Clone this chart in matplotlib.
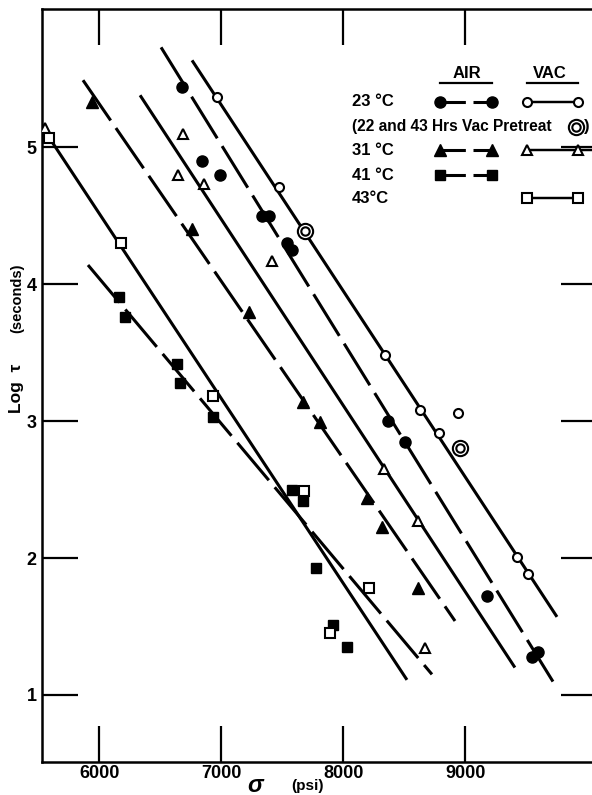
import numpy as np
import matplotlib.pyplot as plt

plt.rcParams['font.family'] = ['Liberation Sans', 'DejaVu Sans']
plt.rcParams['font.weight'] = 'bold'

# --- data (stress in psi, log tau in seconds) ---
air23_x = [6678, 6842, 6989, 7334, 7391, 7539, 7580, 8366, 8506, 9178, 9547, 9596]
air23_y = [5.44, 4.90, 4.80, 4.50, 4.50, 4.30, 4.25, 3.00, 2.85, 1.72, 1.28, 1.31]

vac23_x = [6965, 7473, 8342, 8629, 8784, 8940, 9424, 9514]
vac23_y = [5.37, 4.71, 3.48, 3.08, 2.91, 3.06, 2.01, 1.88]

pretreat_x = [7686, 8957]
pretreat_y = [4.39, 2.80]

air31_x = [5940, 6760, 7227, 7670, 7809, 8194, 8317, 8612]
air31_y = [5.33, 4.40, 3.80, 3.14, 2.99, 2.44, 2.23, 1.78]

vac31_x = [5552, 6686, 6645, 6858, 7416, 8334, 8612, 8670]
vac31_y = [5.14, 5.10, 4.80, 4.73, 4.17, 2.65, 2.27, 1.34]

air41_x = [6161, 6211, 6637, 6661, 6932, 7580, 7670, 7776, 7916, 8030]
air41_y = [3.91, 3.76, 3.42, 3.28, 3.03, 2.50, 2.42, 1.93, 1.51, 1.35]

vac43_x = [5588, 6178, 6932, 7678, 8211, 7891]
vac43_y = [5.07, 4.30, 3.18, 2.49, 1.78, 1.45]

# fitted lines: (x0, y0, x1, y1, dashed)
fit_23_vac = (6760, 5.635, 9752, 1.57, False)
fit_23_air = (6506, 5.73, 9752, 1.05, True)
fit_31_vac = (6334, 5.38, 9407, 1.20, False)
fit_31_air = (5866, 5.49, 8916, 1.54, True)
fit_43_vac = (5530, 5.15, 8522, 1.11, False)
fit_41_air = (5907, 4.14, 8727, 1.15, True)

xticks = [6000, 7000, 8000, 9000]
yticks = [1, 2, 3, 4, 5]

fig = plt.figure(figsize=(5.92, 7.95), dpi=100)
ax = fig.add_axes([42 / 592, 33 / 795, 555 / 592, 753 / 795])

lw = 2.2
dash = (16, 3)
for x0, y0, x1, y1, dashed in [fit_23_vac, fit_23_air, fit_31_vac,
                               fit_31_air, fit_43_vac, fit_41_air]:
    ln, = ax.plot([x0, x1], [y0, y1], color='black', lw=lw,
                  solid_capstyle='butt', zorder=2)
    if dashed:
        ln.set_dashes(dash)
        ln.set_dash_capstyle('butt')

filled = dict(color='black', linestyle='none', zorder=3)
hollow = dict(color='black', markerfacecolor='white', mew=1.5,
              linestyle='none', zorder=3)

ax.plot(air23_x, air23_y, marker='o', ms=8, **filled)
ax.plot(vac23_x, vac23_y, marker='o', ms=6.5, **hollow)
ax.plot(pretreat_x, pretreat_y, marker='o', ms=11, **hollow)
ax.plot(pretreat_x, pretreat_y, marker='o', ms=6, **hollow)
ax.plot(air31_x, air31_y, marker='^', ms=8.5, **filled)
ax.plot(vac31_x, vac31_y, marker='^', ms=7.5, **hollow)
ax.plot(air41_x, air41_y, marker='s', ms=7.5, **filled)
ax.plot(vac43_x, vac43_y, marker='s', ms=6.5, **hollow)

ax.set_xlim(5530, 10080)
ax.set_ylim(0.51, 6.01)
ax.set_xticks(xticks)
ax.set_yticks(yticks)
ax.tick_params(direction='in', length=26, width=1.6, labelsize=13,
               top=True, right=True)
ax.tick_params(axis='x', pad=2)
ax.tick_params(axis='y', pad=4)
for s in ax.spines.values():
    s.set_linewidth(1.8)

# --- hand-made legend (axes fraction) ---
T = ax.transAxes
fs = 12
ax.text(0.766, 0.915, 'AIR', transform=T, ha='center', va='center', fontsize=fs)
ax.text(0.915, 0.915, 'VAC', transform=T, ha='center', va='center', fontsize=fs)
ax.plot([0.717, 0.811], [0.902, 0.902], transform=T, color='black', lw=1.6,
        clip_on=False)
ax.plot([0.874, 0.966], [0.902, 0.902], transform=T, color='black', lw=1.6,
        clip_on=False)

rows = [0.8765, 0.8433, 0.8127, 0.7795, 0.749]
labels = ['23 °C', '(22 and 43 Hrs Vac Pretreat', '31 °C', '41 °C', '43°C']
for yy, lab in zip(rows, labels):
    size = fs - 0.8 if lab.startswith('(') else fs
    ax.text(0.5586, yy, lab, transform=T, ha='left', va='center', fontsize=size)

ax_x = [0.717, 0.811]
vac_x = [0.874, 0.966]
for yy, mk, ms in [(rows[0], 'o', 8), (rows[2], '^', 8.5), (rows[3], 's', 7.5)]:
    ln, = ax.plot(ax_x, [yy, yy], transform=T, color='black', lw=lw,
                  marker=mk, ms=ms, clip_on=False)
    ln.set_dashes((8.3, 2.5))
for yy, mk, ms, ext in [(rows[0], 'o', 6.5, 0.966), (rows[2], '^', 7.5, 0.99),
                        (rows[4], 's', 6.5, 0.966)]:
    ax.plot([vac_x[0], ext], [yy, yy], transform=T, color='black', lw=lw * 0.8,
            clip_on=False)
    ax.plot(vac_x, [yy, yy], transform=T, marker=mk, ms=ms, clip_on=False,
            **hollow)
ax.plot([0.962], [rows[1]], transform=T, marker='o', ms=11, clip_on=False, **hollow)
ax.plot([0.962], [rows[1]], transform=T, marker='o', ms=6, clip_on=False, **hollow)
ax.text(0.976, rows[1], ')', transform=T, ha='left', va='center', fontsize=fs)

# axis titles
fig.text(255 / 592, 1 - 785 / 795, 'σ', ha='center', va='center',
         fontsize=17, style='italic')
fig.text(308 / 592, 1 - 786 / 795, '(psi)', ha='center', va='center', fontsize=11)
fig.text(17 / 592, 1 - 388 / 795, 'Log  τ', ha='center', va='center',
         fontsize=12.5, rotation=90)
fig.text(17 / 592, 1 - 298 / 795, '(seconds)', ha='center', va='center',
         fontsize=10.5, rotation=90)

fig.savefig('out.png', dpi=100)
